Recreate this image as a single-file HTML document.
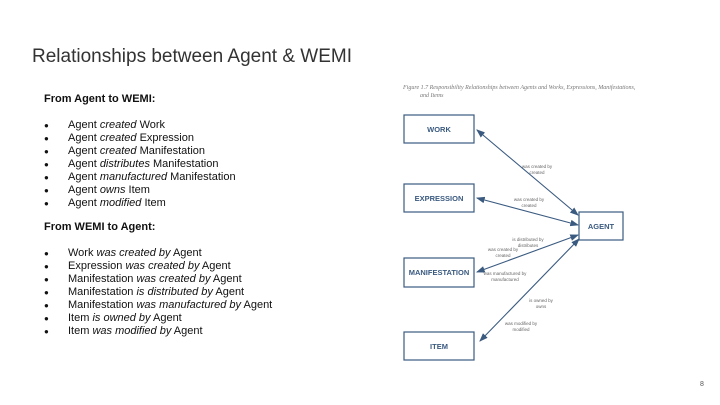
<!DOCTYPE html>
<html><head><style>
body{margin:0;width:720px;height:405px;background:#fff;position:relative;overflow:hidden;font-family:"Liberation Sans",sans-serif;}
.t{position:absolute;white-space:nowrap;}
h1{position:absolute;left:32px;top:46px;margin:0;font-weight:normal;font-size:19px;color:#333;}
.l{position:absolute;left:44px;font-size:11px;color:#111;line-height:13px;}
.l div{position:relative;padding-left:24px;}
.l div:before{content:"●";position:absolute;left:0;font-size:8px;}
</style></head><body>
<h1>Relationships between Agent &amp; WEMI</h1>
<div class="t" style="left:44px;top:93px;font-size:11px;font-weight:bold;color:#111">From Agent to WEMI:</div>
<div class="l" style="top:119px">
<div>Agent <i>created</i> Work</div>
<div>Agent <i>created</i> Expression</div>
<div>Agent <i>created</i> Manifestation</div>
<div>Agent <i>distributes</i> Manifestation</div>
<div>Agent <i>manufactured</i> Manifestation</div>
<div>Agent <i>owns</i> Item</div>
<div>Agent <i>modified</i> Item</div>
</div>
<div class="t" style="left:44px;top:221px;font-size:11px;font-weight:bold;color:#111">From WEMI to Agent:</div>
<div class="l" style="top:247px">
<div>Work <i>was created by</i> Agent</div>
<div>Expression <i>was created by</i> Agent</div>
<div>Manifestation <i>was created by</i> Agent</div>
<div>Manifestation <i>is distributed by</i> Agent</div>
<div>Manifestation <i>was manufactured by</i> Agent</div>
<div>Item <i>is owned by</i> Agent</div>
<div>Item <i>was modified by</i> Agent</div>
</div>
<svg style="position:absolute;left:0;top:0" width="720" height="405" font-family="Liberation Sans,sans-serif">
<defs><marker id="a" markerWidth="8" markerHeight="6" refX="7" refY="3" orient="auto-start-reverse"><path d="M0,0L8,3L0,6z" fill="#3a5a80"/></marker></defs>
<text x="403" y="89" font-size="6" font-style="italic" fill="#777" font-family="Liberation Serif,serif">Figure 1.7   Responsibility Relationships between Agents and Works, Expressions, Manifestations,</text>
<text x="420" y="97" font-size="6" font-style="italic" fill="#777" font-family="Liberation Serif,serif">and Items</text>
<g fill="#fff" stroke="#3a5a80" stroke-width="1.2">
<rect x="404" y="115" width="70" height="28"/><rect x="404" y="184" width="70" height="28"/>
<rect x="404" y="258" width="70" height="29"/><rect x="404" y="332" width="70" height="28"/>
<rect x="579" y="212" width="44" height="28"/></g>
<g fill="#3a5a80" font-size="7.5" font-weight="bold" text-anchor="middle">
<text x="439" y="132">WORK</text><text x="439" y="201">EXPRESSION</text><text x="439" y="275">MANIFESTATION</text><text x="439" y="349">ITEM</text><text x="601" y="229">AGENT</text></g>
<g stroke="#3a5a80" stroke-width="1.1" marker-start="url(#a)" marker-end="url(#a)">
<line x1="477" y1="130" x2="578" y2="215"/><line x1="477" y1="198" x2="578" y2="225"/>
<line x1="477" y1="272" x2="578" y2="235"/><line x1="480" y1="341" x2="579" y2="239"/></g>
<g fill="#666" font-size="4.5" text-anchor="middle">
<text x="537" y="168">was created by</text><text x="537" y="174">created</text>
<text x="529" y="201">was created by</text><text x="529" y="207">created</text>
<text x="528" y="241">is distributed by</text><text x="528" y="247">distributes</text>
<text x="503" y="251">was created by</text><text x="503" y="257">created</text>
<text x="505" y="275">was manufactured by</text><text x="505" y="281">manufactured</text>
<text x="541" y="302">is owned by</text><text x="541" y="308">owns</text>
<text x="521" y="325">was modified by</text><text x="521" y="331">modified</text></g>
<text x="700" y="386" font-size="7" fill="#555">8</text>
</svg>
</body></html>
